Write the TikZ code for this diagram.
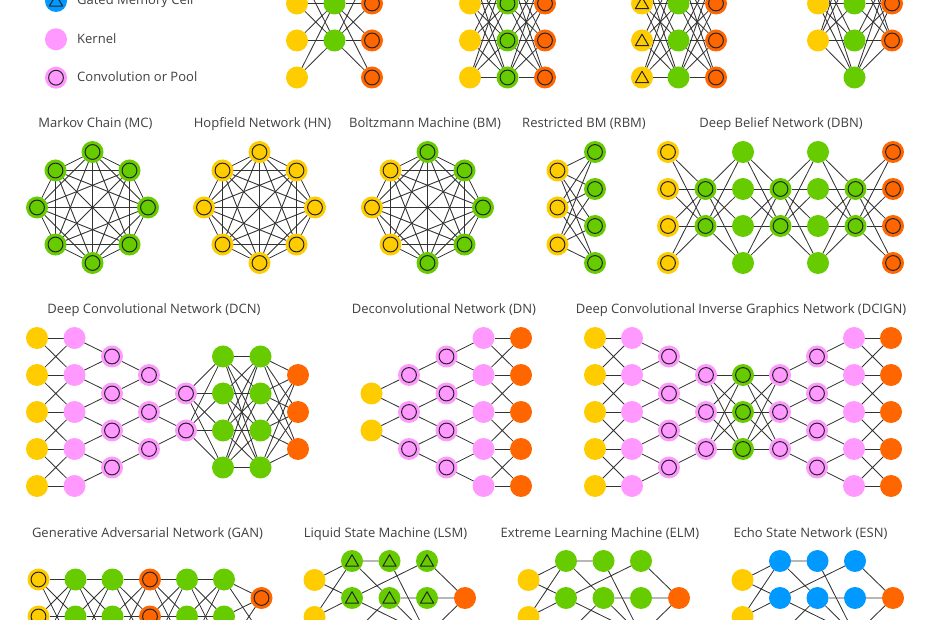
\documentclass[tikz,border=0pt]{standalone}
\usepackage{fontspec}
\setmainfont{Open Sans}
\pgfdeclarelayer{bg}
\pgfdeclarelayer{edges}
\pgfsetlayers{bg,edges,main}
\definecolor{cY}{HTML}{FFCC00}
\definecolor{cG}{HTML}{66CC00}
\definecolor{cO}{HTML}{FF6600}
\definecolor{cP}{HTML}{FF99FF}
\definecolor{cB}{HTML}{0099FF}
\definecolor{cE}{HTML}{333333}
\definecolor{cT}{HTML}{404040}
\tikzset{
  cell/.style={circle,minimum size=22pt,inner sep=0pt,outer sep=0pt,draw=none},
  ringmark/.style={path picture={\draw[line width=1pt,black!85] (path picture bounding box.center) circle[radius=7.4pt];}},
  trimark/.style={path picture={\draw[line width=1pt,black!85,line join=round] ([yshift=6.3pt]path picture bounding box.center) -- ++(-6.6pt,-11.4pt) -- ++(13.2pt,0pt) -- cycle;}},
  yel/.style={cell,fill=cY}, yelc/.style={yel,ringmark}, yelt/.style={yel,trimark},
  grn/.style={cell,fill=cG}, grnc/.style={grn,ringmark}, grnt/.style={grn,trimark},
  org/.style={cell,fill=cO}, orgc/.style={org,ringmark},
  pnk/.style={cell,fill=cP}, pnkc/.style={pnk,ringmark},
  blu/.style={cell,fill=cB}, blut/.style={blu,trimark},
  edge/.style={draw=cE,line width=0.85pt},
  ttl/.style={anchor=base,inner sep=0pt,text=cT,font=\fontsize{13}{15}\selectfont},
  lgd/.style={ttl,anchor=base west}
}
% column of nodes: prefix, x, list of y, style
\newcommand\nnlayer[4]{\foreach \yy [count=\ii] in {#3}{\node[#4] (#1\ii) at (#2,\yy) {};}}
% full bipartite: prefixA, nA, prefixB, nB
\newcommand\nnfull[4]{\begin{pgfonlayer}{edges}\foreach \ii in {1,...,#2}{\foreach \jj in {1,...,#4}{\draw[edge] (#1\ii) -- (#3\jj);}}\end{pgfonlayer}}
% larger prefix, smaller prefix, size of smaller
\newcommand\nnbidi[3]{\begin{pgfonlayer}{edges}\foreach \jj in {1,...,#3}{\pgfmathtruncatemacro\kk{\jj+1}\draw[edge] (#2\jj) -- (#1\jj) (#2\jj) -- (#1\kk);}\end{pgfonlayer}}
% tridiagonal between equal layers
\newcommand\nntri[3]{\begin{pgfonlayer}{edges}\foreach \jj in {1,...,#3}{\draw[edge] (#1\jj) -- (#2\jj);}%
  \pgfmathtruncatemacro\mm{#3-1}%
  \foreach \jj in {1,...,\mm}{\pgfmathtruncatemacro\kk{\jj+1}\draw[edge] (#1\jj) -- (#2\kk) (#1\kk) -- (#2\jj);}\end{pgfonlayer}}
% octagon, complete graph: prefix, cx, cy, styleA, styleB, last index with styleA
\newcommand\nnocto[6]{%
  \foreach \ii in {1,...,8}{%
    \pgfmathsetmacro\ang{-90+(\ii-1)*45}%
    \pgfmathsetmacro\rr{mod(\ii,2)==1 ? 55.5 : 52.33}%
    \ifnum\ii>#6\relax
      \node[#5] (#1\ii) at ([shift={(\ang:\rr)}]#2,#3) {};
    \else
      \node[#4] (#1\ii) at ([shift={(\ang:\rr)}]#2,#3) {};
    \fi}%
  \begin{pgfonlayer}{edges}
  \foreach \ii in {1,...,7}{\pgfmathtruncatemacro\st{\ii+1}\foreach \jj in {\st,...,8}{\draw[edge] (#1\ii) -- (#1\jj);}}
  \end{pgfonlayer}}
% reservoir-like network: prefix, x of input, hidden style
\newcommand\nnres[3]{%
  \nnlayer{#1y}{#2}{580,617}{yel}
  \nnlayer{#1a}{#2+37.5}{561,598,635}{#3}
  \nnlayer{#1b}{#2+75}{561,598,635}{#3}
  \nnlayer{#1c}{#2+112.5}{561,598,635}{#3}
  \node[org] (#1o) at (#2+150.5,598) {};
  \begin{pgfonlayer}{edges}
  \draw[edge] (#1y1) -- (#1a1) (#1y1) -- (#1a2) (#1y2) -- (#1a1) (#1y2) -- (#1a2);
  \draw[edge] (#1a1) -- (#1b1) (#1a1) -- (#1b2) (#1b1) -- (#1c3) (#1c1) -- (#1o);
  \draw[edge] (#1a2) -- (#1c1) (#1a2) -- (#1c3) (#1b2) -- (#1c2) (#1c2) -- (#1o);
  \draw[edge] (#1b2) -- (#1a3) (#1c3) -- (#1o) (#1b2) -- (#1c3) (#1y2) -- (#1a3) (#1a3) -- (#1b3);
  \end{pgfonlayer}}
\begin{document}
\begin{tikzpicture}[x=1pt,y=-1pt]
\useasboundingbox (0,0) rectangle (930,620);
\begin{pgfonlayer}{bg}
\fill[white] (0,0) rectangle (930,620);
\end{pgfonlayer}

% ---------- legend ----------
\node[blut] (lg1) at (56,1) {};
\node[pnk]  (lg2) at (56,39.3) {};
\node[pnkc] (lg3) at (56,77.7) {};
\node[lgd] (lt1) at (77,5) {Gated Memory Cell};
\node[lgd] (lt2) at (77,43.3) {Kernel};
\node[lgd] (lt3) at (77,81.7) {Convolution or Pool};

% ---------- top row (AE, VAE, DAE, SAE) ----------
\nnlayer{aea}{297}{-33.5,3.5,40.5,77.5}{yel}
\nnlayer{aeb}{334.5}{3.5,40.5}{grn}
\nnlayer{aec}{372}{-33.5,3.5,40.5,77.5}{orgc}
\nnfull{aea}{4}{aeb}{2}\nnfull{aeb}{2}{aec}{4}

\nnlayer{vaa}{470}{-33.5,3.5,40.5,77.5}{yel}
\nnlayer{vab}{507.5}{-33.5,3.5,40.5,77.5}{grnc}
\nnlayer{vac}{545}{-33.5,3.5,40.5,77.5}{orgc}
\nnfull{vaa}{4}{vab}{4}\nnfull{vab}{4}{vac}{4}

\nnlayer{dea}{642}{-33.5,3.5,40.5,77.5}{yelt}
\nnlayer{deb}{678.5}{-33.5,3.5,40.5,77.5}{grn}
\nnlayer{dec}{716}{-33.5,3.5,40.5,77.5}{orgc}
\nnfull{dea}{4}{deb}{4}\nnfull{deb}{4}{dec}{4}

\nnlayer{saa}{818}{-33.5,3.5,40.5}{yel}
\nnlayer{sab}{854.5}{-70.5,-33.5,3.5,40.5,77.5}{grn}
\nnlayer{sac}{892}{-33.5,3.5,40.5}{orgc}
\nnfull{saa}{3}{sab}{5}\nnfull{sab}{5}{sac}{3}

% ---------- second row ----------
\node[ttl] (t-mc) at (95.5,127.5) {Markov Chain (MC)};
\node[ttl] (t-hn) at (262.5,127.5) {Hopfield Network (HN)};
\node[ttl] (t-bm) at (425,127.5) {Boltzmann Machine (BM)};
\node[ttl] (t-rbm) at (584,127.5) {Restricted BM (RBM)};
\node[ttl] (t-dbn) at (781,127.5) {Deep Belief Network (DBN)};

\nnocto{mc}{92.5}{207.5}{grnc}{grnc}{8}
\nnocto{hn}{259.5}{207.5}{yelc}{yelc}{8}
\nnocto{bm}{427.5}{207.5}{grnc}{yelc}{5}

\nnlayer{ra}{557.5}{170.5,207.5,244.5}{yelc}
\nnlayer{rb}{595}{152,189,226,263}{grnc}
\nnfull{ra}{3}{rb}{4}

\nnlayer{ba}{668}{152,189,226,263}{yelc}
\nnlayer{bb}{705.5}{189,226}{grnc}
\nnlayer{bc}{743}{152,189,226,263}{grn}
\nnlayer{bd}{780.5}{189,226}{grnc}
\nnlayer{be}{818}{152,189,226,263}{grn}
\nnlayer{bf}{855.5}{189,226}{grnc}
\nnlayer{bg}{893}{152,189,226,263}{orgc}
\nnfull{ba}{4}{bb}{2}\nnfull{bb}{2}{bc}{4}\nnfull{bc}{4}{bd}{2}
\nnfull{bd}{2}{be}{4}\nnfull{be}{4}{bf}{2}\nnfull{bf}{2}{bg}{4}

% ---------- third row ----------
\node[ttl] (t-dcn) at (154,313.5) {Deep Convolutional Network (DCN)};
\node[ttl] (t-dn) at (444,313.5) {Deconvolutional Network (DN)};
\node[ttl] (t-dcign) at (741,313.5) {Deep Convolutional Inverse Graphics Network (DCIGN)};

\nnlayer{ca}{37}{338,375,412,449,486}{yel}
\nnlayer{cb}{74.5}{338,375,412,449,486}{pnk}
\nnlayer{cc}{112}{356.5,393.5,430.5,467.5}{pnkc}
\nnlayer{cd}{149}{375,412,449}{pnkc}
\nnlayer{ce}{186}{393.5,430.5}{pnkc}
\nnlayer{cf}{223}{356.5,393.5,430.5,467.5}{grn}
\nnlayer{cg}{260.5}{356.5,393.5,430.5,467.5}{grn}
\nnlayer{ch}{298}{375,412,449}{org}
\nntri{ca}{cb}{5}\nnbidi{cb}{cc}{4}\nnbidi{cc}{cd}{3}\nnbidi{cd}{ce}{2}
\nnfull{ce}{2}{cf}{4}\nnfull{cf}{4}{cg}{4}\nnfull{cg}{4}{ch}{3}

\nnlayer{na}{371.5}{393.5,430.5}{yel}
\nnlayer{nb}{409}{375,412,449}{pnkc}
\nnlayer{nc}{446.5}{356.5,393.5,430.5,467.5}{pnkc}
\nnlayer{nd}{483.5}{338,375,412,449,486}{pnk}
\nnlayer{ne}{521}{338,375,412,449,486}{org}
\nnbidi{nb}{na}{2}\nnbidi{nc}{nb}{3}\nnbidi{nd}{nc}{4}\nntri{nd}{ne}{5}

\nnlayer{ia}{595}{338,375,412,449,486}{yel}
\nnlayer{ib}{632}{338,375,412,449,486}{pnk}
\nnlayer{ic}{669}{356.5,393.5,430.5,467.5}{pnkc}
\nnlayer{id}{706}{375,412,449}{pnkc}
\nnlayer{ie}{743}{375,412,449}{grnc}
\nnlayer{if}{780}{375,412,449}{pnkc}
\nnlayer{ig}{817}{356.5,393.5,430.5,467.5}{pnkc}
\nnlayer{ih}{854}{338,375,412,449,486}{pnk}
\nnlayer{ij}{891}{338,375,412,449,486}{org}
\nntri{ia}{ib}{5}\nnbidi{ib}{ic}{4}\nnbidi{ic}{id}{3}
\nnfull{id}{3}{ie}{3}\nnfull{ie}{3}{if}{3}
\nnbidi{ig}{if}{3}\nnbidi{ih}{ig}{4}\nntri{ih}{ij}{5}

% ---------- fourth row ----------
\node[ttl] (t-gan) at (147.5,537.5) {Generative Adversarial Network (GAN)};
\node[ttl] (t-lsm) at (385.5,537.5) {Liquid State Machine (LSM)};
\node[ttl] (t-elm) at (600,537.5) {Extreme Learning Machine (ELM)};
\node[ttl] (t-esn) at (810.5,537.5) {Echo State Network (ESN)};

\nnlayer{ga}{38.5}{579.5,616.5,653.5}{yelc}
\nnlayer{gb}{75.5}{579.5,616.5,653.5}{grn}
\nnlayer{gc}{112.5}{579.5,616.5,653.5}{grn}
\nnlayer{gd}{150}{579.5,616.5,653.5}{orgc}
\nnlayer{ge}{187}{579.5,616.5,653.5}{grn}
\nnlayer{gf}{224}{579.5,616.5,653.5}{grn}
\nnlayer{gg}{261.5}{598,635}{orgc}
\nnfull{ga}{3}{gb}{3}\nnfull{gb}{3}{gc}{3}\nnfull{gc}{3}{gd}{3}
\nnfull{gd}{3}{ge}{3}\nnfull{ge}{3}{gf}{3}\nnfull{gf}{3}{gg}{2}

\nnres{ls}{314.5}{grnt}
\nnres{el}{528.5}{grn}
\nnres{es}{742.5}{blu}
\end{tikzpicture}
\end{document}
